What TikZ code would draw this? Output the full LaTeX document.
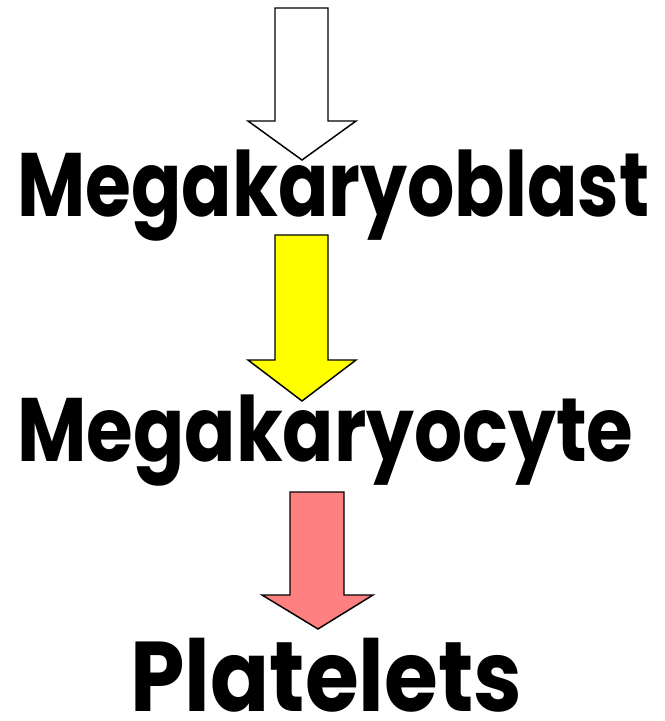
\documentclass[tikz,border=0pt]{standalone}
\usepackage{fontspec}
\usepackage{graphicx}
\newfontfamily\stagefont{Poppins}
\definecolor{arrowyellow}{RGB}{255,255,0}
\definecolor{arrowpink}{RGB}{255,128,128}
\newcommand{\fitstage}[3]{\resizebox{#1}{#2}{#3}}
\tikzset{every picture/.style={line width=0.75pt}}

\begin{document}
\begin{tikzpicture}[x=0.75pt,y=0.75pt,yscale=-1,xscale=1,
  stage/.style={anchor=base west,inner sep=0pt,font=\stagefont\bfseries\fontsize{68}{80}\selectfont},
  blockarrow/.style={line width=1.1pt,line join=miter}]
\path [use as bounding box] (0,0) rectangle (664,721);

%Shape: Down Arrow (white)
\draw [blockarrow,fill=white] (275,8) -- (328,8) -- (328,121) -- (356,121) -- (302,160) -- (248,121) -- (275,121) -- cycle ;
%Shape: Down Arrow (yellow)
\draw [blockarrow,fill=arrowyellow] (275,235) -- (328,235) -- (328,360) -- (356,360) -- (302,401) -- (248,360) -- (275,360) -- cycle ;
%Shape: Down Arrow (pink)
\draw [blockarrow,fill=arrowpink] (290,492) -- (344,492) -- (344,595) -- (373,595) -- (318,629) -- (262,595) -- (290,595) -- cycle ;

% Text Node
\draw (17,216) node [stage] (blast) {\fitstage{474pt}{50pt}{Megakaryoblast}};
% Text Node
\draw (17,461) node [stage] (cyte) {\fitstage{462pt}{50pt}{Megakaryocyte}};
% Text Node
\draw (130,711) node [stage] (plat) {\fitstage{294pt}{55pt}{Platelets}};
\end{tikzpicture}
\end{document}
